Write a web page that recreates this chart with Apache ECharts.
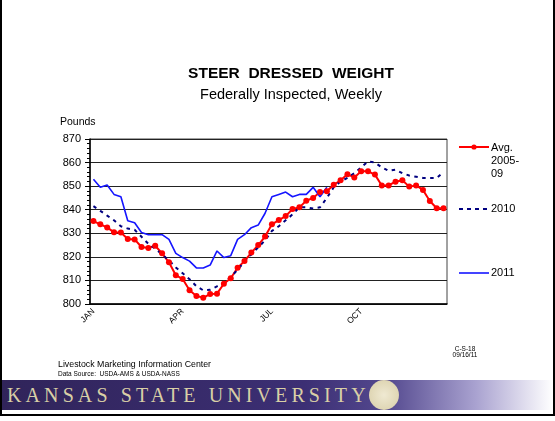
<!DOCTYPE html>
<html>
<head>
<meta charset="utf-8">
<script src="https://cdn.jsdelivr.net/npm/echarts@6/dist/echarts.min.js"></script>
<style>
  html, body { margin: 0; padding: 0; background: #fff; }
  #wrap { position: relative; width: 555px; height: 421px; overflow: hidden; }
  #chart { position: absolute; left: 0; top: 0; width: 555px; height: 421px; }
  #frame { position: absolute; left: 0; top: 0; width: 551px; height: 414px;
    border-left: 2px solid #000; border-right: 2px solid #000; border-bottom: 2px solid #000; pointer-events: none; }
  #banner { position: absolute; left: 2px; top: 380px; width: 551px; height: 30px;
    background: linear-gradient(to right, #30245a 0%, #3c2f74 55%, #54498f 70%, #a9a2d0 86%, #ffffff 100%); }
  #banner span { position: absolute; left: 5px; top: 4px; font-family: "Liberation Serif", "DejaVu Serif", serif;
    font-size: 20px; letter-spacing: 4.1px; color: #d9cfa6; white-space: nowrap; }
  #seal { position: absolute; left: 367px; top: 0px; width: 30px; height: 30px; border-radius: 50%;
    background: radial-gradient(circle, #efe9d2 0%, #e0d7b6 65%, #cbbf95 100%); }
</style>
</head>
<body>
<div id="wrap">
  <div id="chart"></div>
  <div id="banner"><span>KANSAS STATE UNIVERSITY</span><div id="seal"></div></div>
  <div id="frame"></div>
</div>
<script>
// weekly slaughter weeks, Jan..Dec
const weeks = Array.from({ length: 52 }, (_, i) => i + 1);
const quarterLabels = { 0: 'JAN', 13: 'APR', 26: 'JUL', 39: 'OCT' };

// pounds
const avg0509 = [
  835.2, 833.8, 832.5, 830.4, 830.3, 827.6, 827.4, 824.2, 823.8, 824.7,
  821.5, 817.7, 812.2, 810.6, 805.8, 803.4, 802.7, 804.2, 804.4, 808.6,
  810.9, 815.4, 818.2, 821.8, 825.0, 828.6, 833.8, 835.6, 837.3, 840.3,
  841.0, 843.8, 845.0, 847.5, 847.8, 850.6, 852.5, 855.0, 853.7, 856.3,
  856.3, 854.9, 850.3, 850.3, 851.9, 852.5, 849.8, 850.3, 848.4, 843.7,
  840.6, 840.6
];
const y2010 = [
  841.5, 839.5, 837.5, 835.5, 833.0, 832.0, 831.5, 828.5, 825.5, 823.5,
  821.0, 818.5, 815.5, 813.0, 810.5, 807.5, 805.8, 806.0, 807.5, 809.0,
  811.5, 814.5, 818.0, 821.0, 824.0, 827.0, 831.0, 833.0, 835.5, 838.0,
  841.0, 841.0, 840.5, 841.0, 845.0, 849.5, 852.0, 853.5, 855.5, 858.0,
  860.5, 860.0, 858.0, 856.5, 857.0, 855.5, 854.5, 854.0, 853.5, 853.5,
  853.5, 856.0
];
const y2011 = [
  852.9, 849.5, 850.5, 846.5, 845.5, 835.3, 834.5, 830.3, 829.4, 829.4,
  829.4, 827.4, 821.5, 819.7, 818.2, 815.3, 815.3, 816.5, 822.5, 819.7,
  820.5, 827.4, 829.4, 832.4, 833.5, 838.5, 845.5, 846.5, 847.5, 845.5,
  846.5, 846.5, 849.5, 845.5, 849.5
];

const FONT = 'Liberation Sans, Arial, sans-serif';
const chart = echarts.init(document.getElementById('chart'), null, { renderer: 'canvas' });

chart.setOption({
  backgroundColor: 'transparent',
  animation: false,
  title: {
    text: 'STEER  DRESSED  WEIGHT',
    subtext: 'Federally Inspected, Weekly',
    left: 286, top: 61, textAlign: 'center', itemGap: 5,
    textStyle: { fontFamily: FONT, fontSize: 15.5, fontWeight: 'bold', color: '#000' },
    subtextStyle: { fontFamily: FONT, fontSize: 14.5, color: '#000' },
  },
  grid: { left: 90, right: 108, top: 139, bottom: 117, show: true, borderColor: '#444', borderWidth: 1 },
  xAxis: {
    type: 'category',
    data: weeks,
    boundaryGap: true,
    axisLine: { lineStyle: { color: '#000', width: 1.5 } },
    axisTick: { interval: 0, length: 3, lineStyle: { color: '#000' } },
    axisLabel: {
      interval: 0, rotate: 45, margin: 6,
      fontFamily: FONT, fontSize: 8.5, color: '#000',
      formatter: (v, i) => quarterLabels[i] || '',
    },
    splitLine: { show: false },
  },
  yAxis: {
    type: 'value', min: 800, max: 870, interval: 10,
    axisLine: { show: true, lineStyle: { color: '#000', width: 1.5 } },
    axisTick: { show: true, length: 5, lineStyle: { color: '#000' } },
    minorTick: { show: true, splitNumber: 5, length: 3, lineStyle: { color: '#000' } },
    axisLabel: { fontFamily: FONT, fontSize: 11, color: '#000', margin: 9 },
    splitLine: { lineStyle: { color: '#222', width: 1 } },
  },
  series: [
    {
      name: 'Avg. 2005-09', type: 'line', data: avg0509,
      symbol: 'circle', symbolSize: 6,
      lineStyle: { color: '#ff0000', width: 2 },
      itemStyle: { color: '#ff0000' },
    },
    {
      name: '2010', type: 'line', data: y2010, showSymbol: false,
      lineStyle: { color: '#000080', width: 2, type: [3.5, 4.5] },
    },
    {
      name: '2011', type: 'line', data: y2011, showSymbol: false,
      lineStyle: { color: '#1515ff', width: 1.6 },
    },
  ],
  graphic: [
    { type: 'text', left: 60, top: 117, style: { text: 'Pounds', font: '10.5px ' + FONT, fill: '#000' } },
    // legend
    { type: 'line', shape: { x1: 459, y1: 147, x2: 489, y2: 147 }, style: { stroke: '#ff0000', lineWidth: 2 } },
    { type: 'circle', shape: { cx: 474, cy: 147, r: 2.6 }, style: { fill: '#ff0000' } },
    { type: 'text', x: 491, y: 141, style: { text: 'Avg.\n2005-\n09', font: '11px ' + FONT, lineHeight: 13, fill: '#000' } },
    { type: 'line', shape: { x1: 459, y1: 209, x2: 489, y2: 209 }, style: { stroke: '#000080', lineWidth: 2, lineDash: [4, 4] } },
    { type: 'text', x: 491, y: 203, style: { text: '2010', font: '11px ' + FONT, fill: '#000' } },
    { type: 'line', shape: { x1: 459, y1: 273, x2: 489, y2: 273 }, style: { stroke: '#1515ff', lineWidth: 1.6 } },
    { type: 'text', x: 491, y: 267, style: { text: '2011', font: '11px ' + FONT, fill: '#000' } },
    // source notes
    { type: 'text', x: 58, y: 360, style: { text: 'Livestock Marketing Information Center', font: '8.8px ' + FONT, fill: '#000' } },
    { type: 'text', x: 58, y: 371, style: { text: 'Data Source:  USDA-AMS & USDA-NASS', font: '6.5px ' + FONT, fill: '#000' } },
    { type: 'text', x: 465, y: 345.5, style: { text: 'C-S-18', font: '6.5px ' + FONT, fill: '#000', align: 'center' } },
    { type: 'text', x: 465, y: 351.5, style: { text: '09/16/11', font: '6.5px ' + FONT, fill: '#000', align: 'center' } },
  ],
});
</script>
</body>
</html>
